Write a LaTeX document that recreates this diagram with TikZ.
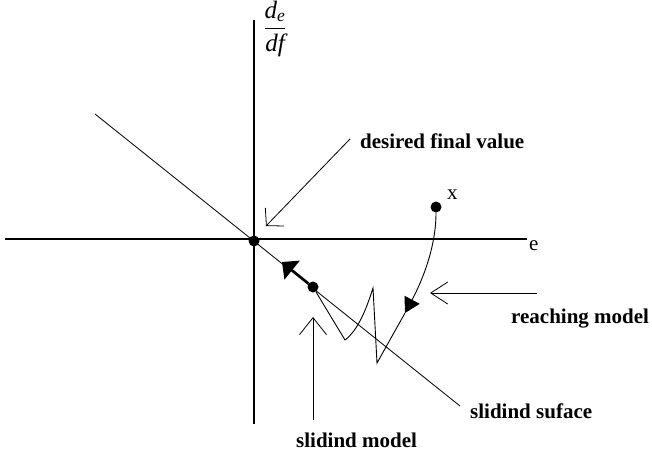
\documentclass[tikz,border=0pt]{standalone}
\usepackage{amsmath}
\usepackage{fontspec}
\setmainfont{Liberation Serif}
\usepackage{tikz}
\usetikzlibrary{arrows.meta,positioning,calc}
\tikzstyle{axis}    =[line width=1.4pt, black]
\tikzstyle{surface} =[line width=0.8pt, black]
\tikzstyle{traj}    =[line width=0.9pt, black]
\tikzstyle{statedot}=[circle, fill=black, inner sep=0pt, minimum size=11pt]
\tikzstyle{pointer} =[line width=0.8pt]
\tikzstyle{lbl}     =[inner sep=0pt, font=\fontsize{21}{25}\selectfont\bfseries]
\tikzstyle{sym}     =[inner sep=0pt, font=\fontsize{21}{25}\selectfont]

\begin{document}
\begin{tikzpicture}[x=1pt, y=-1pt]
  \useasboundingbox (0,0) rectangle (652,455);

  % ── axes and sliding surface ───────────────────────────────────────────────
  \coordinate (yTop)  at (254, 20);
  \coordinate (yBot)  at (254, 424);
  \coordinate (xLeft) at (5, 239);
  \coordinate (xRight) at (527, 239);
  \coordinate (sA) at (95, 114);
  \coordinate (sB) at (460, 406);
  \draw[axis] (yBot) -- (yTop);
  \draw[axis] (xLeft) -- (xRight);
  \draw[surface] (sA) -- (sB);

  \node[sym, anchor=base west] (elbl) at (529, 250) {e};
  \node[sym, font=\fontsize{25}{29}\selectfont] (frac) at (275, 29)
    {$\displaystyle\frac{\text{\itshape d}_{\text{\itshape e}}}{\text{\itshape df}}$};

  % ── states ────────────────────────────────────────────────────────────────
  \node[statedot] (O) at (254, 241) {};
  \node[statedot] (S) at (313, 287) {};
  \node[statedot] (X) at (436, 207) {};
  \node[sym, anchor=base west] (xlbl) at (447, 199) {x};

  % ── trajectory: reaching, then zig-zag, then sliding to origin ─────────────
  \coordinate (tipA) at (405, 313);
  \coordinate (z1) at (377, 363);
  \coordinate (z2) at (373, 288);
  \coordinate (z3) at (345, 340);
  \coordinate (tipS) at (282, 262);
  \draw[traj, -{Triangle[length=15pt, width=17pt]}]
    (X) .. controls (436, 250) and (420, 285) .. (tipA);
  \draw[traj] (tipA) -- (z1) -- (z2)
    .. controls (366, 310) and (358, 330) .. (z3) -- (S);
  \draw[line width=2.2pt, -{Triangle[length=13pt, width=24pt]}] (S) -- (tipS);

  % ── labels with open arrows ───────────────────────────────────────────────
  \node[lbl, anchor=base west] (dfv)   at (360, 148) {desired final value};
  \node[lbl, anchor=base west] (reach) at (511, 323) {reaching model};
  \node[lbl, anchor=base west] (surf)  at (470, 418) {slidind suface};
  \node[lbl, anchor=base west] (smod)  at (296, 447) {slidind model};

  \coordinate (dfvT) at (350, 139);
  \coordinate (dfvH) at (266, 226);
  \coordinate (reachT) at (537, 293);
  \coordinate (reachH) at (430, 293);
  \coordinate (smodT) at (313, 420);
  \coordinate (smodH) at (313, 317);
  \draw[pointer, -{Straight Barb[length=12pt, width=26pt]}] (dfvT) -- (dfvH);
  \draw[pointer, -{Straight Barb[length=17pt, width=22pt]}] (reachT) -- (reachH);
  \draw[pointer, -{Straight Barb[length=17pt, width=27pt]}] (smodT) -- (smodH);

\end{tikzpicture}
\end{document}
